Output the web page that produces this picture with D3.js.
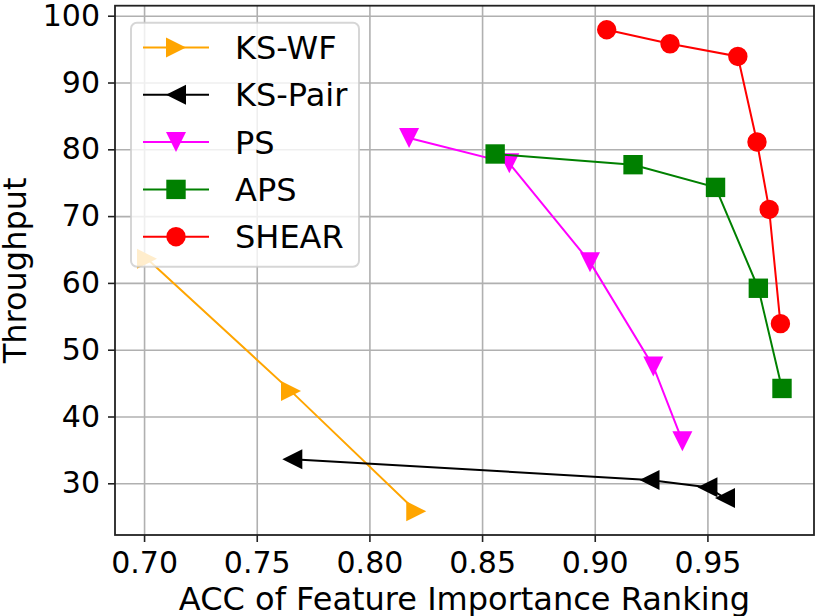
<!DOCTYPE html>
<html>
<head>
<meta charset="utf-8">
<script src="https://cdn.jsdelivr.net/npm/d3@7"></script>
<style>
  body { margin: 0; background: #fff; }
  svg { display: block; font-family: "DejaVu Sans", sans-serif; }
</style>
</head>
<body>
<div id="chart"></div>
<script>
// values
var ksWfX = [0.7013, 0.7652, 0.8208];
var ksWfY = [63.6, 43.8, 25.8];

var ksPairX = [0.7658, 0.9243, 0.9500, 0.9578];
var ksPairY = [33.6, 30.5, 29.4, 27.8];

var psX = [0.8176, 0.8621, 0.8979, 0.9260, 0.9389];
var psY = [81.7, 77.9, 63.1, 47.5, 36.3];

var apsX = [0.8558, 0.9170, 0.9536, 0.9726, 0.9831];
var apsY = [79.3, 77.7, 74.3, 59.2, 44.2];

var shearX = [0.9053, 0.9334, 0.9635, 0.9720, 0.9774, 0.9824];
var shearY = [97.9, 95.8, 93.9, 81.1, 71.0, 53.9];

var seriesNames = ["KS-WF", "KS-Pair", "PS", "APS", "SHEAR"];
var xTicks = [0.70, 0.75, 0.80, 0.85, 0.90, 0.95];
var yTicks = [30, 40, 50, 60, 70, 80, 90, 100];

var width = 822;
var height = 616;
var plot = { left: 115, right: 814, top: 5.7, bottom: 535 };

var series = [
    { name: seriesNames[0], xs: ksWfX, ys: ksWfY, color: "#ffa500", marker: "right" },
    { name: seriesNames[1], xs: ksPairX, ys: ksPairY, color: "#000000", marker: "left" },
    { name: seriesNames[2], xs: psX, ys: psY, color: "#ff00ff", marker: "down" },
    { name: seriesNames[3], xs: apsX, ys: apsY, color: "#008000", marker: "square" },
    { name: seriesNames[4], xs: shearX, ys: shearY, color: "#ff0000", marker: "circle" }
];

var svg = d3.select("#chart")
            .append("svg")
                .attr("width", width)
                .attr("height", height);

svg.append("rect").attr("width", width).attr("height", height).attr("fill", "#fff");

var xScale = d3.scaleLinear()
                .domain([0.6871, 0.9973])
                .range([plot.left, plot.right]);

var yScale = d3.scaleLinear()
                .domain([22.26, 101.5])
                .range([plot.bottom, plot.top]);

// grid
svg.append("g")
    .attr("transform", "translate(0," + plot.bottom + ")")
    .call(d3.axisBottom(xScale).tickValues(xTicks).tickSize(-(plot.bottom - plot.top)).tickFormat(""))
    .call(function(g){
        g.select(".domain").remove();
        g.selectAll("line").attr("stroke", "#b0b0b0").attr("stroke-width", 1.6);
    });

svg.append("g")
    .attr("transform", "translate(" + plot.left + ",0)")
    .call(d3.axisLeft(yScale).tickValues(yTicks).tickSize(-(plot.right - plot.left)).tickFormat(""))
    .call(function(g){
        g.select(".domain").remove();
        g.selectAll("line").attr("stroke", "#b0b0b0").attr("stroke-width", 1.6);
    });

// marker shapes, size s = full width
function markerPath(type, s){
    var h = s / 2;
    if (type == "right") return "M" + (-h) + "," + (-h) + "L" + h + ",0L" + (-h) + "," + h + "Z";
    if (type == "left")  return "M" + h + "," + (-h) + "L" + (-h) + ",0L" + h + "," + h + "Z";
    if (type == "down")  return "M" + (-h) + "," + (-h) + "L" + h + "," + (-h) + "L0," + h + "Z";
    if (type == "square") {
        var q = h * 0.97;
        return "M" + (-q) + "," + (-q) + "H" + q + "V" + q + "H" + (-q) + "Z";
    }
    var r = h * 0.97;
    return "M" + r + ",0A" + r + "," + r + " 0 1,1 " + (-r) + ",0A" + r + "," + r + " 0 1,1 " + r + ",0Z";
}

var lineFunc = d3.line()
                .x(function(d) { return xScale(d[0]); })
                .y(function(d) { return yScale(d[1]); });

series.forEach(function(s){
    var pts = s.xs.map(function(x, i){ return [x, s.ys[i]]; });
    var g = svg.append("g");
    g.append("path")
        .attr("d", lineFunc(pts))
        .attr("fill", "none")
        .attr("stroke", s.color)
        .attr("stroke-width", 2);
    g.selectAll("path.mk")
        .data(pts)
        .enter()
        .append("path")
        .attr("class", "mk")
        .attr("transform", function(d){ return "translate(" + xScale(d[0]) + "," + yScale(d[1]) + ")"; })
        .attr("d", markerPath(s.marker, 20))
        .attr("fill", s.color);
});

// axes with ticks and labels
var xAxis = svg.append("g")
    .attr("transform", "translate(0," + plot.bottom + ")")
    .call(d3.axisBottom(xScale).tickValues(xTicks).tickFormat(d3.format(".2f")).tickSize(7).tickPadding(9.5));

var yAxis = svg.append("g")
    .attr("transform", "translate(" + plot.left + ",0)")
    .call(d3.axisLeft(yScale).tickValues(yTicks).tickFormat(d3.format("d")).tickSize(7).tickPadding(8));

[xAxis, yAxis].forEach(function(ax){
    ax.select(".domain").remove();
    ax.selectAll("line").attr("stroke", "#222").attr("stroke-width", 1.6);
    ax.selectAll("text")
        .attr("fill", "#000")
        .style("font-family", "DejaVu Sans")
        .style("font-size", "30px");
});

// spines
svg.append("rect")
    .attr("x", plot.left)
    .attr("y", plot.top)
    .attr("width", plot.right - plot.left)
    .attr("height", plot.bottom - plot.top)
    .attr("fill", "none")
    .attr("stroke", "#222")
    .attr("stroke-width", 1.8);

// axis titles
svg.append("text")
    .attr("x", (plot.left + plot.right) / 2)
    .attr("y", 610)
    .attr("text-anchor", "middle")
    .style("font-size", "32px")
    .text("ACC of Feature Importance Ranking");

svg.append("text")
    .attr("transform", "translate(26," + (plot.top + plot.bottom) / 2 + ") rotate(-90)")
    .attr("text-anchor", "middle")
    .style("font-size", "32px")
    .text("Throughput");

// legend
var legend = svg.append("g");
legend.append("rect")
    .attr("x", 131)
    .attr("y", 22.7)
    .attr("width", 228)
    .attr("height", 244)
    .attr("rx", 6)
    .attr("fill", "#fff")
    .attr("fill-opacity", 0.8)
    .attr("stroke", "#cccccc")
    .attr("stroke-opacity", 0.8)
    .attr("stroke-width", 2);

series.forEach(function(s, i){
    var cy = 47.5 + i * 47.3;
    legend.append("line")
        .attr("x1", 143).attr("x2", 209)
        .attr("y1", cy).attr("y2", cy)
        .attr("stroke", s.color)
        .attr("stroke-width", 2);
    legend.append("path")
        .attr("transform", "translate(176," + cy + ")")
        .attr("d", markerPath(s.marker, 20))
        .attr("fill", s.color);
    legend.append("text")
        .attr("x", 235)
        .attr("y", cy + 11.5)
        .style("font-size", "32px")
        .text(s.name);
});
</script>
</body>
</html>
